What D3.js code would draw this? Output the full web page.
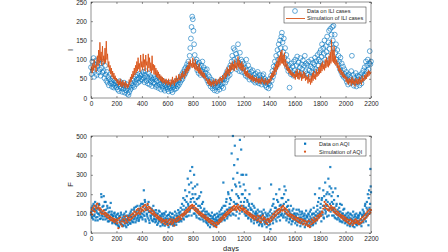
<!DOCTYPE html>
<html>
<head>
<meta charset="utf-8">
<script src="https://cdn.jsdelivr.net/npm/d3@7"></script>
<style>
  html, body { margin: 0; padding: 0; background: #fff; }
  svg { display: block; font-family: "Liberation Sans", Arial, sans-serif; }
  .tick text { fill: #262626; }
</style>
</head>
<body>
<div id="chart"></div>
<script>
// one value every 5 days, day 0 .. 2200
const step = 5;
const xTicks = [0, 200, 400, 600, 800, 1000, 1200, 1400, 1600, 1800, 2000, 2200];
const iliTicks = [0, 50, 100, 150, 200, 250];
const aqiTicks = [0, 100, 200, 300, 400, 500];

const iliData = [
  80, 62, 95, 71, 104, 55, 88, 76, 98, 60, 83, 92, 67, 101, 74, 58, 90, 79, 66, 95,
  70, 52, 84, 61, 45, 68, 40, 55, 33, 48, 62, 38, 44, 29, 50, 35, 27, 46, 32, 39,
  28, 41, 22, 35, 18, 44, 30, 25, 38, 16, 33, 24, 40, 14, 29, 20, 36, 11, 26, 8,
  15, 30, 22, 38, 27, 45, 33, 50, 29, 42, 56, 36, 48, 60, 40, 52, 63, 44, 58, 49,
  62, 47, 68, 53, 41, 60, 70, 45, 55, 38, 64, 50, 35, 57, 43, 52, 31, 48, 40, 54,
  37, 50, 29, 44, 33, 55, 26, 41, 35, 48, 22, 38, 30, 45, 24, 36, 19, 33, 28, 40,
  23, 35, 17, 30, 26, 40, 20, 33, 15, 28, 37, 22, 31, 43, 25, 36, 30, 45, 34, 48,
  40, 55, 46, 62, 50, 68, 58, 75, 63, 80, 70, 88, 77, 95, 85, 110, 130, 155, 185, 212,
  205, 175, 140, 112, 95, 84, 100, 72, 88, 65, 92, 78, 60, 85, 70, 95, 64, 80, 58, 74,
  66, 52, 75, 45, 60, 38, 55, 42, 30, 48, 35, 25, 44, 32, 20, 38, 27, 42, 18, 33,
  28, 40, 22, 35, 45, 30, 50, 38, 26, 48, 55, 40, 62, 47, 70, 55, 66, 78, 60, 85,
  72, 95, 110, 80, 130, 100, 125, 88, 115, 75, 105, 140, 92, 70, 118, 85, 100, 68, 95, 78,
  88, 65, 80, 58, 100, 72, 55, 85, 62, 48, 75, 57, 68, 50, 72, 45, 60, 52, 40, 63,
  55, 42, 68, 48, 38, 60, 45, 52, 35, 58, 44, 62, 40, 50, 33, 46, 28, 42, 36, 25,
  38, 50, 32, 58, 45, 70, 55, 82, 65, 95, 78, 110, 88, 125, 100, 140, 115, 150, 130, 160,
  170, 145, 120, 155, 105, 130, 90, 112, 80, 98, 70, 85, 27, 75, 62, 90, 68, 82, 58, 95,
  72, 100, 63, 85, 108, 70, 92, 58, 80, 104, 66, 88, 75, 98, 60, 84, 110, 70, 90, 64,
  86, 60, 95, 72, 55, 82, 100, 68, 78, 92, 62, 88, 105, 75, 96, 70, 112, 85, 100, 118,
  95, 125, 108, 140, 88, 130, 115, 150, 100, 135, 120, 160, 110, 145, 175, 128, 180, 140, 165, 185,
  150, 188, 130, 165, 118, 140, 100, 125, 88, 110, 95, 75, 105, 68, 90, 60, 82, 55, 75, 62,
  50, 68, 42, 58, 35, 62, 48, 55, 38, 70, 110, 45, 60, 32, 52, 40, 65, 30, 48, 58,
  42, 55, 33, 60, 45, 38, 65, 50, 72, 58, 80, 62, 95, 70, 85, 100, 75, 90, 122, 88,
  95
];

const iliSim = [
  70, 82, 65, 90, 72, 100, 78, 85, 68, 95, 110, 82, 125, 90, 145, 98, 120, 85, 135, 95,
  110, 88, 130, 92, 148, 100, 115, 80, 95, 70, 85, 62, 78, 55, 70, 50, 65, 48, 58, 45,
  52, 38, 48, 32, 45, 35, 50, 30, 42, 28, 46, 33, 40, 26, 44, 30, 38, 25, 36, 28,
  48, 35, 55, 42, 62, 50, 70, 55, 78, 60, 85, 65, 95, 70, 105, 75, 90, 68, 112, 80,
  95, 72, 115, 80, 100, 70, 112, 85, 95, 68, 115, 78, 105, 70, 92, 65, 110, 72, 88, 62,
  85, 60, 78, 55, 72, 52, 68, 48, 62, 45, 58, 42, 55, 38, 52, 40, 48, 35, 50, 38,
  45, 33, 50, 36, 42, 30, 48, 35, 55, 38, 46, 32, 52, 40, 58, 42, 50, 45, 62, 48,
  58, 45, 65, 52, 70, 55, 62, 50, 75, 58, 80, 65, 85, 70, 95, 75, 100, 82, 90, 78,
  105, 80, 92, 75, 100, 72, 88, 70, 82, 65, 90, 62, 78, 58, 72, 55, 68, 52, 65, 50,
  58, 45, 52, 38, 48, 35, 50, 32, 45, 30, 42, 35, 48, 30, 44, 38, 50, 33, 46, 36,
  42, 50, 38, 55, 45, 52, 40, 60, 48, 58, 65, 50, 72, 55, 80, 62, 75, 58, 85, 68,
  90, 72, 95, 75, 88, 70, 100, 78, 92, 74, 85, 108, 80, 98, 76, 90, 72, 95, 70, 88,
  75, 62, 80, 58, 70, 55, 72, 52, 65, 50, 62, 48, 58, 45, 60, 42, 55, 45, 52, 40,
  55, 42, 50, 38, 52, 40, 48, 36, 55, 42, 50, 38, 46, 35, 52, 40, 45, 34, 48, 38,
  50, 40, 58, 45, 65, 52, 70, 55, 80, 60, 88, 68, 95, 75, 105, 80, 110, 85, 120, 90,
  125, 90, 112, 85, 118, 80, 100, 75, 90, 70, 82, 65, 78, 60, 72, 58, 68, 55, 65, 52,
  62, 48, 70, 55, 75, 50, 65, 48, 72, 55, 68, 45, 62, 50, 70, 52, 66, 45, 58, 48,
  55, 38, 62, 42, 50, 35, 58, 40, 65, 45, 70, 50, 62, 48, 75, 55, 68, 58, 80, 62,
  85, 65, 90, 70, 95, 75, 88, 72, 100, 78, 105, 82, 98, 80, 110, 85, 120, 90, 152, 95,
  125, 92, 135, 88, 110, 85, 100, 78, 92, 70, 85, 65, 78, 60, 72, 55, 68, 52, 62, 50,
  58, 42, 55, 38, 50, 35, 52, 40, 48, 32, 55, 38, 50, 35, 45, 30, 52, 38, 48, 35,
  50, 36, 55, 40, 48, 35, 58, 42, 52, 45, 60, 48, 62, 50, 68, 55, 72, 58, 70, 62,
  68
];

// AQI readings on days 0, 5, 10, ...
const aqiData = [
  95, 130, 78, 115, 150, 88, 120, 65, 140, 105, 82, 125, 98, 145, 72, 110, 200, 90, 135, 70,
  190, 118, 85, 160, 100, 75, 128, 92, 60, 110, 80, 155, 70, 95, 55, 88, 68, 105, 50, 82,
  60, 95, 40, 75, 30, 88, 55, 105, 45, 70, 35, 92, 62, 80, 38, 110, 52, 72, 42, 85,
  65, 100, 48, 82, 120, 58, 95, 70, 130, 85, 55, 110, 75, 140, 90, 62, 125, 80, 105, 150,
  100, 70, 135, 220, 88, 160, 60, 118, 95, 145, 75, 108, 52, 130, 85, 112, 65, 98, 140, 72,
  90, 55, 118, 70, 42, 100, 80, 60, 110, 35, 85, 65, 95, 48, 72, 102, 38, 78, 58, 88,
  50, 92, 30, 70, 105, 45, 80, 60, 98, 38, 75, 55, 110, 65, 42, 88, 72, 118, 58, 95,
  80, 130, 60, 150, 95, 180, 70, 120, 220, 100, 160, 85, 280, 140, 250, 110, 320, 175, 90, 340,
  230, 130, 300, 100, 200, 150, 80, 250, 120, 180, 95, 140, 70, 210, 110, 85, 160, 60, 125, 95,
  80, 55, 110, 65, 40, 95, 72, 30, 88, 60, 105, 45, 75, 35, 92, 58, 70, 40, 100, 62,
  85, 50, 110, 70, 95, 60, 130, 80, 260, 100, 65, 140, 90, 175, 75, 120, 200, 95, 150, 110,
  170, 410, 130, 500, 95, 350, 450, 150, 240, 110, 310, 190, 75, 260, 480, 140, 430, 200, 120, 300,
  250, 130, 180, 90, 300, 110, 160, 75, 140, 200, 95, 120, 60, 150, 85, 110, 50, 130, 70, 100,
  90, 55, 120, 75, 40, 230, 85, 60, 110, 35, 95, 65, 80, 45, 105, 55, 30, 88, 70, 40,
  60, 110, 20, 250, 85, 140, 50, 175, 95, 130, 70, 200, 115, 80, 160, 100, 225, 65, 145, 90,
  120, 180, 80, 150, 240, 100, 220, 65, 135, 90, 170, 55, 110, 75, 140, 45, 95, 60, 125, 80,
  100, 50, 85, 120, 40, 75, 95, 60, 110, 35, 80, 55, 100, 45, 70, 90, 30, 65, 115, 50,
  85, 40, 95, 60, 110, 35, 75, 55, 100, 45, 130, 70, 200, 50, 90, 65, 120, 160, 80, 230,
  100, 150, 60, 180, 95, 220, 75, 140, 260, 110, 200, 85, 160, 280, 120, 240, 340, 130, 190, 90,
  210, 120, 170, 80, 230, 100, 150, 70, 190, 95, 130, 60, 110, 85, 145, 55, 100, 70, 125, 50,
  90, 55, 75, 40, 105, 60, 80, 35, 95, 50, 70, 45, 110, 65, 30, 85, 55, 100, 40, 75,
  60, 90, 45, 105, 70, 35, 85, 120, 55, 100, 75, 150, 60, 130, 90, 200, 40, 220, 110, 330,
  210
];

// AQI readings on days 2.5, 7.5, 12.5, ... (the in-between days)
const aqiDataMid = [
  110, 85, 140, 70, 125, 95, 160, 80, 115, 130, 65, 100, 150, 90, 120, 75, 185, 105, 85, 140,
  100, 160, 70, 120, 90, 140, 60, 105, 80, 130, 65, 95, 110, 50, 85, 70, 100, 60, 90, 45,
  75, 50, 100, 35, 85, 65, 45, 95, 60, 80, 40, 70, 100, 50, 88, 30, 65, 90, 55, 70,
  90, 50, 110, 65, 80, 100, 55, 120, 75, 90, 135, 65, 100, 80, 115, 70, 95, 140, 85, 120,
  80, 150, 95, 110, 170, 70, 130, 100, 85, 120, 160, 65, 110, 90, 75, 125, 95, 60, 115, 85,
  70, 105, 60, 95, 80, 50, 115, 65, 90, 75, 55, 100, 40, 85, 65, 95, 55, 110, 70, 45,
  75, 60, 95, 45, 85, 70, 50, 100, 65, 80, 45, 90, 70, 55, 100, 60, 85, 75, 105, 65,
  110, 70, 95, 120, 75, 140, 100, 170, 85, 130, 190, 110, 150, 90, 210, 120, 160, 260, 130, 200,
  180, 100, 160, 240, 120, 90, 175, 110, 140, 75, 190, 100, 130, 85, 150, 70, 115, 90, 80, 110,
  65, 95, 50, 80, 100, 55, 70, 90, 45, 75, 60, 85, 50, 70, 95, 40, 80, 65, 55, 85,
  70, 95, 60, 80, 120, 75, 100, 90, 140, 70, 110, 95, 160, 120, 85, 210, 100, 130, 180, 90,
  130, 220, 100, 280, 160, 120, 250, 90, 200, 150, 380, 130, 180, 100, 240, 160, 300, 110, 200, 140,
  160, 100, 220, 130, 90, 170, 120, 80, 150, 100, 130, 70, 120, 95, 80, 140, 65, 100, 85, 110,
  70, 100, 60, 85, 110, 50, 90, 75, 45, 100, 70, 120, 55, 80, 65, 95, 50, 75, 100, 60,
  90, 45, 120, 75, 100, 65, 150, 80, 110, 90, 130, 60, 170, 100, 120, 85, 140, 110, 95, 180,
  100, 140, 90, 200, 120, 80, 160, 105, 75, 140, 90, 120, 70, 100, 85, 60, 115, 90, 70, 100,
  70, 90, 60, 100, 75, 55, 120, 80, 65, 95, 50, 110, 70, 85, 60, 100, 75, 45, 90, 80,
  60, 100, 70, 50, 85, 120, 65, 95, 40, 80, 100, 60, 90, 110, 75, 140, 100, 85, 180, 110,
  130, 90, 170, 110, 140, 80, 190, 120, 100, 170, 140, 210, 120, 90, 200, 150, 110, 230, 160, 120,
  150, 90, 130, 110, 75, 140, 95, 120, 80, 110, 70, 150, 90, 60, 100, 80, 120, 65, 90, 75,
  65, 100, 80, 55, 90, 70, 45, 100, 75, 60, 90, 35, 80, 55, 95, 70, 45, 80, 60, 90,
  80, 55, 100, 70, 50, 95, 65, 90, 110, 70, 140, 95, 80, 160, 120, 100, 180, 130, 150, 240
];

const aqiSim = [
  105, 120, 95, 130, 115, 140, 110, 135, 125, 148, 152, 130, 140, 118, 128, 105, 120, 98, 112, 100,
  115, 95, 105, 88, 100, 82, 95, 78, 90, 72, 85, 68, 80, 65, 75, 60, 72, 55, 68, 62,
  70, 50, 65, 25, 75, 55, 80, 45, 60, 35, 70, 58, 85, 50, 72, 62, 88, 55, 78, 68,
  80, 65, 90, 72, 95, 78, 100, 85, 110, 90, 105, 95, 118, 100, 125, 105, 115, 98, 128, 110,
  120, 135, 115, 140, 125, 145, 118, 138, 130, 150, 122, 135, 112, 128, 105, 120, 100, 115, 95, 108,
  100, 88, 95, 80, 90, 75, 85, 70, 80, 65, 75, 55, 70, 60, 65, 50, 62, 45, 68, 55,
  58, 40, 65, 50, 72, 55, 60, 45, 70, 52, 62, 38, 68, 58, 75, 60, 80, 65, 85, 70,
  78, 90, 72, 95, 85, 100, 92, 108, 98, 115, 105, 120, 110, 128, 118, 135, 125, 140, 130, 145,
  138, 125, 140, 118, 130, 112, 125, 105, 118, 100, 110, 95, 105, 90, 100, 85, 95, 80, 90, 75,
  88, 70, 80, 65, 75, 58, 70, 55, 65, 50, 62, 45, 58, 40, 52, 35, 48, 30, 55, 45,
  50, 65, 55, 72, 60, 78, 68, 85, 75, 92, 80, 98, 88, 105, 95, 110, 100, 118, 105, 122,
  112, 128, 118, 135, 120, 140, 125, 132, 118, 138, 128, 145, 122, 135, 115, 130, 125, 140, 118, 128,
  120, 110, 125, 105, 115, 100, 110, 95, 105, 90, 100, 85, 95, 80, 90, 75, 88, 70, 85, 78,
  80, 65, 90, 70, 85, 60, 75, 55, 82, 68, 90, 72, 78, 58, 70, 50, 65, 45, 72, 60,
  70, 55, 78, 62, 85, 70, 95, 78, 100, 85, 108, 92, 115, 100, 120, 105, 125, 110, 118, 130,
  135, 115, 140, 120, 130, 110, 125, 100, 118, 95, 110, 90, 100, 85, 95, 80, 92, 75, 88, 70,
  85, 70, 80, 65, 78, 60, 75, 55, 70, 50, 72, 58, 68, 45, 65, 50, 62, 40, 58, 45,
  55, 35, 62, 40, 30, 58, 45, 70, 50, 65, 55, 78, 60, 72, 65, 85, 70, 90, 78, 95,
  85, 100, 90, 110, 105, 125, 140, 160, 130, 150, 125, 145, 120, 138, 115, 130, 125, 140, 118, 132,
  125, 110, 130, 105, 120, 100, 112, 95, 108, 90, 100, 85, 95, 80, 90, 75, 88, 70, 82, 65,
  78, 60, 72, 55, 68, 50, 65, 45, 70, 52, 62, 40, 58, 48, 65, 52, 70, 55, 62, 50,
  58, 45, 65, 50, 72, 55, 80, 60, 85, 70, 92, 75, 100, 82, 108, 90, 115, 98, 122, 105,
  118
];

const blue = "#0072BD", orange = "#D95319", axisCol = "#262626";
const W = 448, H = 252;

const svg = d3.select("#chart").append("svg")
  .attr("width", W).attr("height", H)
  .attr("viewBox", [0, 0, W, H]);

const x = d3.scaleLinear().domain([0, 2200]).range([91, 371]);

function drawAxes(g, y, yTicks, top, bottom, yLabel, xLabel) {
  // box
  g.append("rect")
    .attr("x", 91).attr("y", top)
    .attr("width", 280).attr("height", bottom - top)
    .attr("fill", "none").attr("stroke", axisCol).attr("stroke-width", 0.5);

  g.append("g").attr("transform", `translate(0,${bottom})`)
    .call(d3.axisBottom(x).tickValues(xTicks).tickFormat(d3.format("d"))
      .tickSize(-2).tickPadding(3).tickSizeOuter(0));
  g.append("g").attr("transform", `translate(0,${top})`)
    .call(d3.axisTop(x).tickValues(xTicks).tickSize(-2).tickFormat("").tickSizeOuter(0));
  g.append("g").attr("transform", "translate(91,0)")
    .call(d3.axisLeft(y).tickValues(yTicks).tickFormat(d3.format("d"))
      .tickSize(-2).tickPadding(4).tickSizeOuter(0));
  g.append("g").attr("transform", "translate(371,0)")
    .call(d3.axisRight(y).tickValues(yTicks).tickSize(-2).tickFormat("").tickSizeOuter(0));

  g.selectAll(".domain").remove();
  g.selectAll(".tick line").attr("stroke", axisCol).attr("stroke-width", 0.5);
  g.selectAll(".tick text").attr("font-size", 6.5).attr("font-family", "Liberation Sans, Arial, sans-serif");

  g.append("text")
    .attr("transform", `translate(73,${(top + bottom) / 2}) rotate(-90)`)
    .attr("text-anchor", "middle")
    .attr("font-size", 7.5).attr("fill", axisCol)
    .text(yLabel);

  if (xLabel) {
    g.append("text")
      .attr("x", 231).attr("y", bottom + 18)
      .attr("text-anchor", "middle")
      .attr("font-size", 7.5).attr("fill", axisCol)
      .text(xLabel);
  }
}

// ---- top: ILI ----
const yI = d3.scaleLinear().domain([0, 250]).range([98, 2]);
const gTop = svg.append("g");

gTop.append("g").selectAll("circle")
  .data(iliData)
  .join("circle")
  .attr("cx", (d, i) => x(i * step))
  .attr("cy", d => yI(d))
  .attr("r", 2.4)
  .attr("fill", "none")
  .attr("stroke", blue)
  .attr("stroke-width", 0.6);

gTop.append("path")
  .datum(iliSim)
  .attr("fill", "none")
  .attr("stroke", orange)
  .attr("stroke-width", 0.9)
  .attr("d", d3.line().x((d, i) => x(i * step)).y(d => yI(d)));

drawAxes(gTop, yI, iliTicks, 2, 98, "I", null);

// legend top
const lgTop = gTop.append("g");
lgTop.append("rect").attr("x", 284).attr("y", 7).attr("width", 82).attr("height", 16)
  .attr("fill", "#fff").attr("stroke", axisCol).attr("stroke-width", 0.5);
lgTop.append("circle").attr("cx", 295).attr("cy", 11).attr("r", 2.4)
  .attr("fill", "none").attr("stroke", blue).attr("stroke-width", 0.6);
lgTop.append("line").attr("x1", 286).attr("x2", 305).attr("y1", 18.5).attr("y2", 18.5)
  .attr("stroke", orange).attr("stroke-width", 0.9);
lgTop.selectAll("text.lg")
  .data(["Data on ILI cases", "Simulation of ILI cases"])
  .join("text")
  .attr("class", "lg")
  .attr("x", 307).attr("y", (d, i) => 11 + i * 7.5)
  .attr("dy", "0.35em")
  .attr("font-size", 5.6).attr("fill", axisCol)
  .text(d => d);

// ---- bottom: AQI ----
const yF = d3.scaleLinear().domain([0, 500]).range([233, 136]);
const gBot = svg.append("g");

const aqiPts = aqiData.map((v, i) => [i * step, v])
  .concat(aqiDataMid.map((v, i) => [i * step + step / 2, v]));

gBot.append("g").selectAll("rect")
  .data(aqiPts)
  .join("rect")
  .attr("x", d => x(d[0]) - 1.1)
  .attr("y", d => yF(d[1]) - 1.1)
  .attr("width", 2.2).attr("height", 2.2)
  .attr("fill", blue)
  .attr("opacity", 0.85);

gBot.append("g").selectAll("circle")
  .data(aqiSim)
  .join("circle")
  .attr("cx", (d, i) => x(i * step))
  .attr("cy", d => yF(d))
  .attr("r", 1.1)
  .attr("fill", orange);

drawAxes(gBot, yF, aqiTicks, 136, 233, "F", "days");

// legend bottom
const lgBot = gBot.append("g");
lgBot.append("rect").attr("x", 295).attr("y", 139).attr("width", 71).attr("height", 17)
  .attr("fill", "#fff").attr("stroke", axisCol).attr("stroke-width", 0.5);
lgBot.append("rect").attr("x", 304).attr("y", 142.6).attr("width", 2.2).attr("height", 2.2)
  .attr("fill", blue);
lgBot.append("circle").attr("cx", 305).attr("cy", 151.7).attr("r", 1.1).attr("fill", orange);
lgBot.selectAll("text.lg")
  .data(["Data on AQI", "Simulation of AQI"])
  .join("text")
  .attr("class", "lg")
  .attr("x", 319).attr("y", (d, i) => 143.7 + i * 8)
  .attr("dy", "0.35em")
  .attr("font-size", 5.6).attr("fill", axisCol)
  .text(d => d);
</script>
</body>
</html>
